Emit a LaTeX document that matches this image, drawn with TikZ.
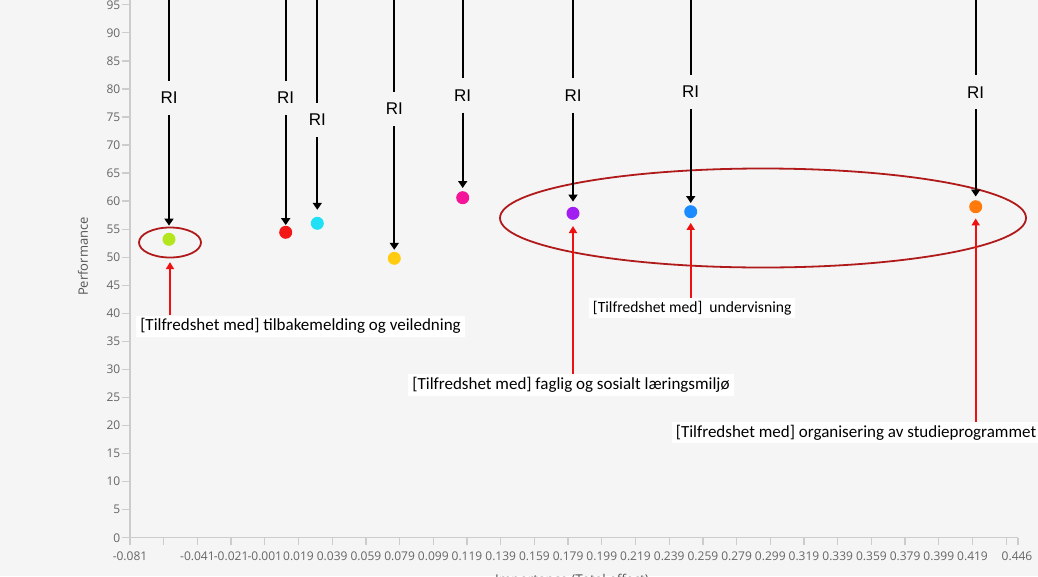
\documentclass[tikz,border=0pt]{standalone}
\usepackage{fontspec}
\setmainfont{Carlito}
\newfontfamily\rifont{Liberation Sans}
\newfontfamily\axfont{Open Sans}
\usetikzlibrary{arrows.meta,shapes.geometric}
\definecolor{bg}{HTML}{F5F5F5}
\definecolor{axisline}{HTML}{CCCCCC}
\definecolor{axisgray}{HTML}{666666}
\definecolor{labgray}{HTML}{555555}
\definecolor{ringred}{HTML}{B01A1A}
\definecolor{arrowred}{HTML}{EE1111}
\definecolor{cLime}{HTML}{B4E61E}
\definecolor{cRed}{HTML}{F21818}
\definecolor{cCyan}{HTML}{1FE0F5}
\definecolor{cYellow}{HTML}{FFCC11}
\definecolor{cMagenta}{HTML}{F5139A}
\definecolor{cPurple}{HTML}{A21EF0}
\definecolor{cBlue}{HTML}{1A8CFF}
\definecolor{cOrange}{HTML}{FF7A0A}
\begin{document}
\begin{tikzpicture}[x=1pt,y=-1pt,
  dot/.style={circle,inner sep=0pt,minimum size=13pt,fill=#1},
  rilabel/.style={font=\rifont\fontsize{17}{17}\selectfont,inner sep=0pt,minimum height=34pt,text=black},
  riline/.style={draw=black,line width=1.7pt},
  riarrow/.style={riline,-{Triangle[length=7pt,width=9pt]}},
  callout/.style={fill=white,inner xsep=4pt,inner ysep=3pt,text=black,font=\fontsize{17}{19}\selectfont},
  redarrow/.style={draw=arrowred,line width=1.7pt,-{Triangle[length=7pt,width=8pt]}},
  ring/.style={ellipse,draw=ringred,line width=1.8pt,inner sep=0pt},
  axl/.style={draw=axisline,line width=1.3pt},
  ticklab/.style={font=\axfont\fontsize{12}{12}\selectfont,text=axisgray,inner sep=0pt},
]
\useasboundingbox (0,0) rectangle (1038,576);
\fill[bg] (0,0) rectangle (1038,576);

% axes
\draw[axl] (130,-3) -- (130,537.7) -- (1018,537.7);
\foreach \v in {0,5,...,95} {
  \pgfmathsetmacro\yy{537.7-5.61*\v}
  \draw[axl] (122,\yy) -- (130,\yy);
  \node[ticklab,anchor=east] (yl\v) at (120.5,\yy) {\v};
}
\foreach \i in {0,...,26} {
  \pgfmathsetmacro\xx{130+33.7*\i}
  \draw[axl] (\xx,537.7) -- (\xx,545);
}
\draw[axl] (1018,537.7) -- (1018,545);
\foreach \i/\t in {0/-0.081,2/-0.041,3/-0.021,4/-0.001,5/0.019,6/0.039,7/0.059,8/0.079,9/0.099,10/0.119,11/0.139,12/0.159,13/0.179,14/0.199,15/0.219,16/0.239,17/0.259,18/0.279,19/0.299,20/0.319,21/0.339,22/0.359,23/0.379,24/0.399,25/0.419} {
  \pgfmathsetmacro\xx{130+33.7*\i}
  \node[ticklab] (xl\i) at (\xx,556.5) {\t};
}
\node[ticklab] (xlend) at (1017,556.5) {0.446};
\node[font=\axfont\fontsize{13}{13}\selectfont,text=labgray,rotate=90] (ylab) at (83,256.5) {Performance};
\node[font=\axfont\fontsize{13.5}{13.5}\selectfont,text=labgray,anchor=base] (xlab) at (572,584) {Importance (Total effect)};

% rings
\node[ring,minimum width=62pt,minimum height=30pt] (e1) at (170,242.5) {};
\node[ring,minimum width=526pt,minimum height=99pt] (e2) at (763,218) {};

% points
\node[dot=cLime] (p1) at (169,239.3) {};
\node[dot=cRed] (p2) at (285.7,232.3) {};
\node[dot=cCyan] (p3) at (317.3,223.3) {};
\node[dot=cYellow] (p4) at (394.3,258.3) {};
\node[dot=cMagenta] (p5) at (462.7,197.7) {};
\node[dot=cPurple] (p6) at (573,213.3) {};
\node[dot=cBlue] (p7) at (690.7,211.7) {};
\node[dot=cOrange] (p8) at (975.7,206.7) {};

% RI labels and arrows
\foreach \k/\px/\ry/\sh in {1/169/97.8/7,2/285.7/97.8/0.5,3/317.3/120/6.8,4/394.3/109/1.8,5/462.7/95.5/3,6/573/95.5/5,7/690.7/91.7/2,8/975.7/92.2/3.5} {
  \coordinate (t\k) at (\px,-5);
  \node[rilabel] (r\k) at (\px,\ry) {RI};
  \draw[riline] (t\k) -- (r\k);
  \draw[riarrow,shorten >=\sh pt] (r\k) -- (p\k);
}

% callouts
\node[callout] (l1) at (300.5,326.2) {[Tilfredshet med] tilbakemelding og veiledning};
\node[callout] (l2) at (571,385) {[Tilfredshet med] faglig og sosialt læringsmiljø};
\node[callout,font=\fontsize{15.6}{17}\selectfont] (l3) at (692.2,308) {[Tilfredshet med]~~undervisning};
\node[callout] (l4) at (856,432.5) {[Tilfredshet med] organisering av studieprogrammet};

\draw[redarrow,shorten >=3.7pt] (l1.north -| e1.south) -- (e1.south);
\draw[redarrow,shorten >=6pt] (l2.north -| p6) -- (p6);
\draw[redarrow,shorten >=4.5pt] (l3.north -| p7) -- (p7);
\draw[redarrow,shorten >=5pt] (l4.north -| p8) -- (p8);
\end{tikzpicture}
\end{document}
